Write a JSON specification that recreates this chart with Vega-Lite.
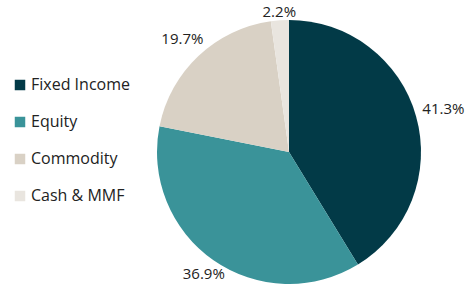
{
  "$schema": "https://vega.github.io/schema/vega-lite/v6.json",
  "width": 264,
  "height": 264,
  "autosize": {"type": "none"},
  "padding": {"left": 157, "top": 20, "right": 48, "bottom": 0},
  "background": "white",
  "config": {"view": {"stroke": null}, "font": "Open Sans"},
  "data": {
    "values": [
      {"asset": "Fixed Income", "share": 0.413, "rank": 1},
      {"asset": "Equity", "share": 0.369, "rank": 2},
      {"asset": "Commodity", "share": 0.197, "rank": 3},
      {"asset": "Cash & MMF", "share": 0.022, "rank": 4}
    ]
  },
  "encoding": {
    "theta": {"field": "share", "type": "quantitative", "stack": true},
    "order": {"field": "rank", "type": "quantitative"},
    "color": {
      "field": "asset",
      "type": "nominal",
      "sort": ["Fixed Income", "Equity", "Commodity", "Cash & MMF"],
      "scale": {
        "domain": ["Fixed Income", "Equity", "Commodity", "Cash & MMF"],
        "range": ["#023a47", "#3a9399", "#d9d1c5", "#e9e5df"]
      },
      "legend": {
        "title": null,
        "orient": "none",
        "legendX": -145,
        "legendY": 57,
        "symbolType": "square",
        "symbolSize": 110,
        "symbolStrokeWidth": 0,
        "labelFontSize": 16,
        "labelColor": "#222222",
        "labelFont": "Open Sans",
        "rowPadding": 21,
        "labelOffset": 3
      }
    }
  },
  "layer": [
    {"mark": {"type": "arc", "outerRadius": 132}},
    {
      "mark": {
        "type": "text",
        "radius": {"expr": "134 + 26 * abs(sin(PI * (datum.share_start + datum.share_end))) + 5 * abs(cos(PI * (datum.share_start + datum.share_end))) - 5 * max(0, -cos(PI * (datum.share_start + datum.share_end)))"},
        "fontSize": 15,
        "font": "Open Sans",
        "color": "#222222"
      },
      "encoding": {
        "text": {"field": "share", "type": "quantitative", "format": ".1%"},
        "color": {"value": "#222222"}
      }
    }
  ]
}
